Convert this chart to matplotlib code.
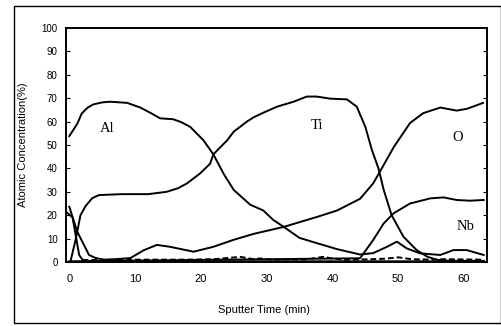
import matplotlib
matplotlib.use("Agg")
import matplotlib.pyplot as plt
from matplotlib.patches import Rectangle

# depth profile
al_t = [0, 1.2, 1.9, 2.8, 3.7, 5, 6.2, 8.8, 10.8, 12.5, 13.8, 15.8, 17, 18.4, 20.4,
        21.9, 23.5, 25, 26.5, 27.5, 29.5, 31, 32.6, 35, 37.7, 40.7, 44.2, 46.2, 48.3,
        49.8, 51.3, 53.3, 56.4, 58.4, 60.4, 63]
al_c = [53.8, 59, 63.5, 66, 67.4, 68.2, 68.5, 68, 66, 63.5, 61.4, 61, 59.8, 57.7,
        52, 46, 37.5, 30.8, 27, 24.5, 22, 18, 15, 10.3, 8, 5.5, 3.2, 3.8, 6.5, 8.7,
        5.8, 3.7, 3, 5.1, 5.1, 3]

ti_t = [0.2, 1, 1.7, 2.5, 3.5, 4.5, 8, 12, 14.8, 16.5, 17.9, 19.9, 21.4, 21.9, 24,
        25, 27, 28, 29.5, 31.6, 34.1, 36.1, 37.6, 39.7, 42.2, 43.7, 45, 46, 47, 47.8,
        49, 50.8, 52.8, 54.4, 55.9, 58, 63]
ti_c = [0.5, 10, 20, 24, 27.3, 28.6, 29, 29, 30, 31.5, 33.6, 37.9, 42, 46, 52, 55.7,
        60, 61.8, 63.8, 66.4, 68.5, 70.7, 70.7, 69.8, 69.5, 66.4, 57.8, 47.9, 40,
        30.8, 20, 10.8, 5.1, 2.3, 0.9, 0.5, 0.5]

o_t = [0, 1.2, 3, 4, 5.3, 7, 9.3, 11.3, 13.3, 15.3, 18.9, 21.9, 25, 28, 32.6, 37.7,
       40.7, 44.2, 46.2, 47.3, 49.3, 51.8, 53.8, 56.4, 58.9, 60.5, 62.9]
o_c = [23.6, 13, 3, 1.7, 1, 1.2, 1.7, 5, 7.3, 6.5, 4.4, 6.5, 9.5, 12, 15, 19.3,
       22, 27, 33.6, 39, 49, 59.4, 63.6, 66, 64.7, 65.5, 68]

nb_t = [0, 44.2, 46.2, 47.8, 49.3, 51.8, 54.9, 56.9, 58.9, 60.9, 63]
nb_c = [0.3, 1.6, 9.4, 16.5, 20.8, 25, 27.2, 27.6, 26.5, 26.2, 26.5]

c_t = [-0.5, 0.5, 1.5, 2, 3, 10, 20, 30, 40, 50, 63]
c_c = [21.5, 19, 3, 1, 0.4, 0.3, 0.3, 0.3, 0.3, 0.3, 0.3]

n_t = [2, 10, 18, 22, 26, 28, 29, 31, 36, 38.6, 40, 42, 45, 48, 50, 52, 55, 57, 60, 63]
n_c = [0.8, 1.0, 1.0, 1.2, 2.2, 1.2, 1.5, 1.0, 1.1, 2.2, 1.5, 1.0, 1.1, 1.4, 2.0,
       1.2, 1.0, 1.2, 1.1, 1.0]

labels = ["Al", "Ti", "O", "Nb"]
label_pos = [(5.8, 57), (37.7, 58.5), (59, 53), (60.3, 15)]

fig = plt.figure(figsize=(5.02, 3.26), dpi=100)
ax = fig.add_axes([66 / 502, 1 - 262 / 326, (487 - 66) / 502, (262 - 28) / 326])

for t, c in [(al_t, al_c), (ti_t, ti_c), (o_t, o_c), (nb_t, nb_c), (c_t, c_c)]:
    ax.plot(t, c, color="black", lw=1.4)
ax.plot(n_t, n_c, color="black", lw=1.4, ls=(0, (3, 1.5)))

for lab, (x, y) in zip(labels, label_pos):
    ax.text(x, y, lab, family="Liberation Serif", fontsize=10.5, ha="center",
            va="center")

ax.set_xlim(-0.5, 63.5)
ax.set_ylim(0, 100)
ax.set_xticks([0, 10, 20, 30, 40, 50, 60])
ax.set_yticks(range(0, 101, 10))
ax.tick_params(axis="y", direction="in", length=3, width=0.8, right=True,
               labelsize=7, pad=6)
ax.tick_params(axis="x", direction="in", length=0, labelsize=8, pad=9)
for lbl in ax.get_xticklabels() + ax.get_yticklabels():
    lbl.set_family("Liberation Sans")
for s in ax.spines.values():
    s.set_linewidth(1.4)

ax.set_xlabel("Sputter Time (min)", family="Liberation Sans", fontsize=8)
ax.xaxis.set_label_coords((264 - 66) / (487 - 66), -(305 - 262) / (262 - 28))
ax.set_ylabel("Atomic Concentration(%)", family="Liberation Sans", fontsize=8)
ax.yaxis.set_label_coords(-(66 - 28) / (487 - 66), 0.5)

fig.add_artist(Rectangle((14 / 502, 1 - 323 / 326), (501 - 14) / 502, (323 - 6) / 326,
                         transform=fig.transFigure, fill=False, lw=1.0, color="black"))

fig.savefig("out.png", dpi=100)
